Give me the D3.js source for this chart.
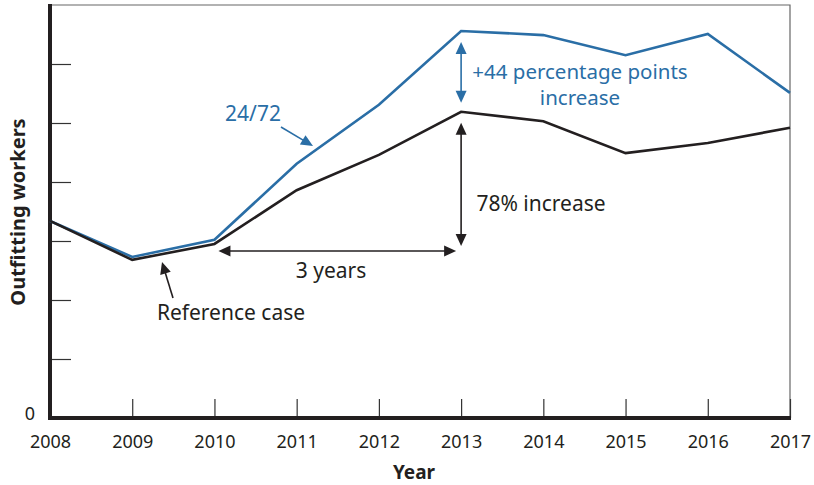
<!DOCTYPE html>
<html><head><meta charset="utf-8">
<script src="https://cdn.jsdelivr.net/npm/d3@7"></script>
<style>body{margin:0;background:#fff}svg{display:block}text{font-family:"Noto Sans",sans-serif}</style>
</head><body><svg id="c" width="814" height="485"></svg>
<script>
const years = [2008,2009,2010,2011,2012,2013,2014,2015,2016,2017];
const referenceCase = [3.34,2.68,2.95,3.86,4.46,5.19,5.03,4.49,4.66,4.92];
const case2472 = [3.34,2.73,3.02,4.31,5.31,6.56,6.49,6.15,6.51,5.51];
const yTicks = [1,2,3,4,5,6];
const xTickLabels = ["2008","2009","2010","2011","2012","2013","2014","2015","2016","2017"];

const BLUE = "#2a6ea6", BLACK = "#231f20";
const svg = d3.select("#c");
const x = d3.scaleLinear().domain([2008,2017]).range([50,790]);
const y = d3.scaleLinear().domain([0,7]).range([418,5]);

// frame top/right
svg.append("path").attr("d",`M${x(2008)},${y(7)}H${x(2017)}V${y(0)}`)
  .attr("fill","none").attr("stroke","#666").attr("stroke-width",1.2);

// left ticks
const ya = d3.axisLeft(y).tickValues(yTicks).tickSizeInner(-21).tickSizeOuter(0).tickFormat("");
const gy = svg.append("g").attr("transform",`translate(${x(2008)},0)`).call(ya);
gy.select(".domain").remove();
gy.selectAll(".tick line").attr("stroke","#333").attr("stroke-width",1.2);

// bottom ticks
const xa = d3.axisBottom(x).tickValues(years).tickSizeInner(-19).tickSizeOuter(0)
  .tickFormat((d,i)=>xTickLabels[i]).tickPadding(30);
const gx = svg.append("g").attr("transform",`translate(0,${y(0)})`).call(xa);
gx.select(".domain").remove();
gx.selectAll(".tick line").attr("stroke","#333").attr("stroke-width",1.2);
gx.selectAll(".tick text").attr("font-size",18).attr("fill",BLACK)
  .attr("font-family","'Noto Sans',sans-serif").attr("dy","0");

// thick axes
svg.append("path").attr("d",`M${x(2008)},${y(7)-1}V${y(0)}H${x(2017)+1}`)
  .attr("fill","none").attr("stroke",BLACK).attr("stroke-width",4);

svg.append("text").attr("x",x(2008)-20).attr("y",y(0)+2).attr("text-anchor","middle")
  .attr("font-size",18).attr("fill",BLACK).text("0");

// lines
const line = d3.line().x((d,i)=>x(years[i])).y(d=>y(d));
svg.append("path").datum(case2472).attr("d",line).attr("fill","none")
  .attr("stroke",BLUE).attr("stroke-width",2.6).attr("stroke-linejoin","miter");
svg.append("path").datum(referenceCase).attr("d",line).attr("fill","none")
  .attr("stroke",BLACK).attr("stroke-width",2.6).attr("stroke-linejoin","miter");

// axis titles
svg.append("text").attr("transform","translate(25,212) rotate(-90)").attr("text-anchor","middle")
  .attr("font-size",20).attr("font-weight","bold").attr("fill",BLACK).text("Outfitting workers");
svg.append("text").attr("x",414).attr("y",479).attr("text-anchor","middle")
  .attr("font-size",19).attr("font-weight","bold").attr("fill",BLACK).text("Year");

// arrow helper
function arrow(x1,y1,x2,y2,color,both){
  const g = svg.append("g");
  const ang = Math.atan2(y2-y1,x2-x1), L=12, W=5.5;
  const head=(px,py,a)=>{
    const bx=px-L*Math.cos(a), by=py-L*Math.sin(a);
    g.append("path").attr("d",`M${px},${py}L${bx+W*Math.sin(a)},${by-W*Math.cos(a)}L${bx-W*Math.sin(a)},${by+W*Math.cos(a)}Z`).attr("fill",color);
  };
  const sx = both? x1+L*0.8*Math.cos(ang):x1, sy = both? y1+L*0.8*Math.sin(ang):y1;
  g.append("line").attr("x1",sx).attr("y1",sy).attr("x2",x2-L*0.8*Math.cos(ang)).attr("y2",y2-L*0.8*Math.sin(ang))
    .attr("stroke",color).attr("stroke-width",1.6);
  head(x2,y2,ang);
  if(both) head(x1,y1,ang+Math.PI);
}

const x13 = x(2013);
arrow(x13, y(case2472[5])+11, x13, y(referenceCase[5])-9, BLUE, true);
arrow(x13, y(referenceCase[5])+11, x13, y(referenceCase[2])+2, BLACK, true);
arrow(x(2010)+4, 251, x13-5, 251, BLACK, true);
arrow(281,127,313,146,BLUE,false);
arrow(173,298,162,262,BLACK,false);

const txt=(tx,ty,s,c,anchor,fs)=>svg.append("text").attr("x",tx).attr("y",ty)
  .attr("text-anchor",anchor||"start").attr("font-size",fs||21).attr("fill",c).text(s);
txt(253,121,"24/72",BLUE,"middle");
txt(580,79,"+44 percentage points",BLUE,"middle",20.5);
txt(580,105,"increase",BLUE,"middle",20.5);
txt(541,211,"78% increase",BLACK,"middle");
txt(331,278,"3 years",BLACK,"middle");
txt(231,320,"Reference case",BLACK,"middle");
</script></body></html>
